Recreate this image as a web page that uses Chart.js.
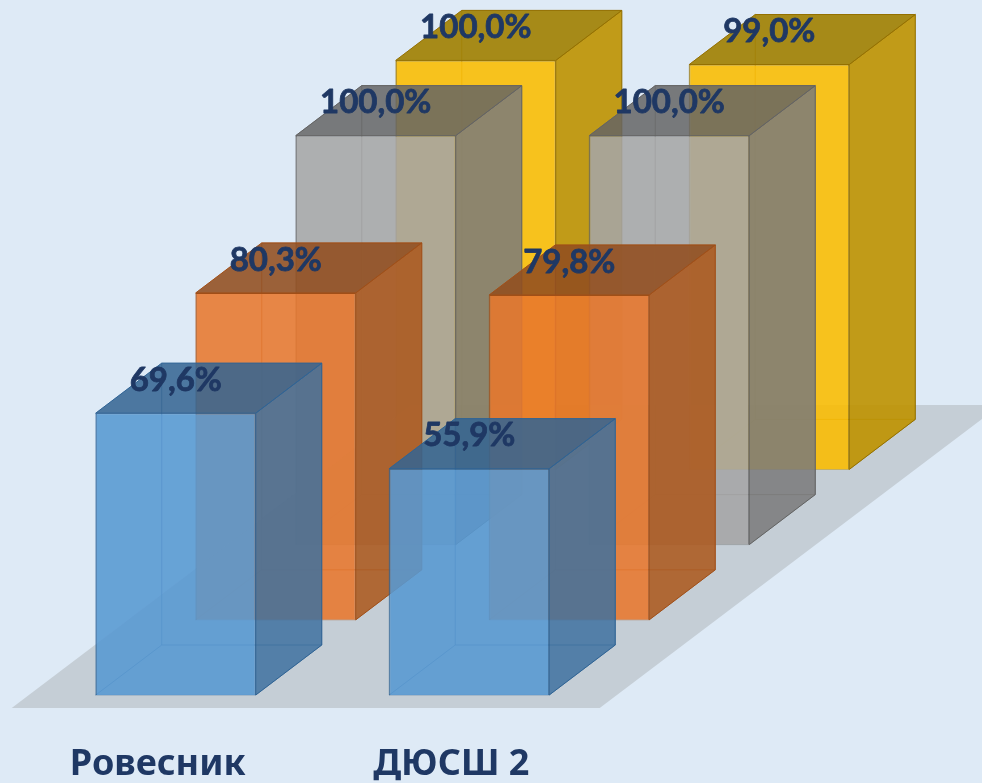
<!DOCTYPE html>
<html><head><meta charset="utf-8">
<style>html,body{margin:0;padding:0;background:#DEEAF6}canvas{display:block}</style>
<script src="https://cdn.jsdelivr.net/npm/chart.js@4"></script></head>
<body><canvas id="c" width="982" height="783"></canvas>
<script>
const categories = ['Ровесник', 'ДЮСШ 2'];
const seriesBlue = [69.6, 55.9];
const seriesOrange = [80.3, 79.8];
const seriesGray = [100.0, 100.0];
const seriesYellow = [100.0, 99.0];

const looks = [
  {front:'rgba(88,152,210,.88)', right:'rgba(62,112,158,.84)', top:'rgba(52,100,146,.86)', back:'rgba(91,155,213,.05)', edge:'#2f6394', max:170.9},
  {front:'rgba(232,120,45,.87)', right:'rgba(172,90,32,.88)', top:'rgba(146,78,32,.88)', back:'rgba(237,125,49,.05)', edge:'#a04f18', max:170},
  {front:'rgba(165,165,165,.87)', right:'rgba(122,122,122,.85)', top:'rgba(100,100,100,.84)', back:'rgba(165,165,165,.05)', edge:'#636363', max:169.2},
  {front:'rgba(250,188,0,.88)', right:'rgba(190,146,0,.9)', top:'rgba(160,128,0,.9)', back:'rgba(255,192,0,.05)', edge:'#947000', max:169.2}
];
const stepY = 75.2, depthX = 66, depthY = 50;
const poly = (ctx, pts, fill, edge) => {
  ctx.beginPath();
  pts.forEach((p, i) => i ? ctx.lineTo(p[0], p[1]) : ctx.moveTo(p[0], p[1]));
  ctx.closePath();
  ctx.fillStyle = fill; ctx.fill();
  ctx.lineWidth = 1; ctx.strokeStyle = edge; ctx.stroke();
};
const boxRect = (el, i) => {
  const p = el.getProps(['x','y','base','width'], true);
  const sy = -stepY * i;
  return {l:p.x - p.width/2, r:p.x + p.width/2, t:p.y + sy, b:p.base + sy};
};
const box3d = {
  id:'box3d',
  beforeDatasetsDraw(chart){
    const ctx = chart.ctx, m = chart.getDatasetMeta(0), first = boxRect(m.data[0], 0);
    const l = first.l - 84, y = first.b + 13, w = chart.width;
    ctx.save();
    ctx.beginPath();
    ctx.moveTo(l, y); ctx.lineTo(l + 588, y);
    ctx.lineTo(w, y - (w - l - 588) * 0.756);
    ctx.lineTo(w, 405); ctx.lineTo(l + 400, 405);
    ctx.closePath();
    ctx.fillStyle = '#C5CED6'; ctx.fill();
    ctx.restore();
  },
  beforeDatasetDraw(chart, args){
    const i = args.index, ctx = chart.ctx, k = looks[i];
    ctx.save();
    args.meta.data.forEach(el => {
      const q = boxRect(el, i);
      const back = k.edge + '66';
      poly(ctx, [[q.l+depthX,q.t-depthY],[q.r+depthX,q.t-depthY],[q.r+depthX,q.b-depthY],[q.l+depthX,q.b-depthY]], k.back, back);
      poly(ctx, [[q.l,q.b],[q.r,q.b],[q.r+depthX,q.b-depthY],[q.l+depthX,q.b-depthY]], k.back, back);
      poly(ctx, [[q.l,q.t],[q.l+depthX,q.t-depthY],[q.l+depthX,q.b-depthY],[q.l,q.b]], k.back, back);
    });
    ctx.restore();
    ctx.save();
    ctx.translate(0, -stepY * i);
  },
  afterDatasetDraw(chart, args){
    const i = args.index, ctx = chart.ctx, k = looks[i];
    ctx.restore();
    ctx.save();
    args.meta.data.forEach(el => {
      const q = boxRect(el, i);
      poly(ctx, [[q.r,q.t],[q.r+depthX,q.t-depthY],[q.r+depthX,q.b-depthY],[q.r,q.b]], k.right, k.edge);
      poly(ctx, [[q.l,q.t],[q.r,q.t],[q.r+depthX,q.t-depthY],[q.l+depthX,q.t-depthY]], k.top, k.edge);
    });
    ctx.restore();
  },
  afterDatasetsDraw(chart){
    const ctx = chart.ctx;
    ctx.save();
    ctx.font = 'bold 33px Lato';
    ctx.fillStyle = ctx.strokeStyle = '#1F3864';
    ctx.lineWidth = 0.8; ctx.lineJoin = 'round';
    ctx.textAlign = 'center'; ctx.textBaseline = 'middle';
    chart.data.datasets.forEach((d, i) => {
      chart.getDatasetMeta(i).data.forEach((el, j) => {
        const q = boxRect(el, i);
        const s = d.data[j].toFixed(1).replace('.', ',') + '%';
        ctx.fillText(s, (q.l+q.r)/2, q.t - 33);
        ctx.strokeText(s, (q.l+q.r)/2, q.t - 33);
      });
    });
    ctx.restore();
  }
};
const mk = (label, data, i) => ({
  label, data, yAxisID:'y' + i, backgroundColor:looks[i].front, borderColor:looks[i].edge, borderWidth:1, clip:false
});
const hiddenY = i => ({display:false, min:0, max:looks[i].max});
new Chart(document.getElementById('c'), {
  type:'bar',
  data:{labels:categories, datasets:[
    mk('Ряд 1', seriesBlue, 0), mk('Ряд 2', seriesOrange, 1),
    mk('Ряд 3', seriesGray, 2), mk('Ряд 4', seriesYellow, 3)
  ]},
  plugins:[box3d],
  options:{
    responsive:false, animation:false, events:[],
    layout:{padding:{left:179, right:216, top:3, bottom:0}},
    categoryPercentage:1.363, barPercentage:1.6,
    plugins:{legend:{display:false}, tooltip:{enabled:false}, title:{display:false}},
    scales:{
      y0:hiddenY(0), y1:hiddenY(1), y2:hiddenY(2), y3:hiddenY(3),
      x:{
        afterFit(s){ s.height = 88; },
        grid:{display:false, drawTicks:false}, border:{display:false},
        ticks:{font:{family:'Noto Sans', weight:'bold', size:36}, color:'#1F3864', padding:48, labelOffset:-168, maxRotation:0, autoSkip:false}
      }
    }
  }
});
</script></body></html>
